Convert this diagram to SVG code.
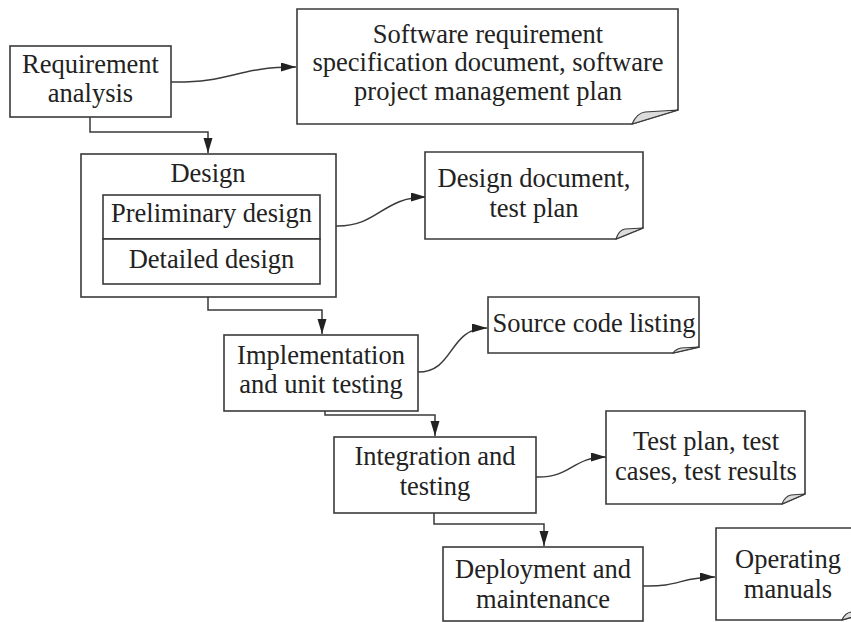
<svg xmlns="http://www.w3.org/2000/svg" width="851" height="622" viewBox="0 0 851 622">
<style>
  .box { fill: #ffffff; stroke: #3a3a3a; stroke-width: 1.6; }
  .fold { fill: #dcdcdc; stroke: #3a3a3a; stroke-width: 1.2; stroke-linejoin: round; }
  .t { font-family: "Liberation Serif", "Times New Roman", serif; font-size: 26.5px; fill: #222222; text-anchor: middle; }
  .conn { fill: none; stroke: #3a3a3a; stroke-width: 1.5; }
</style>
<defs>
  <marker id="ah" markerUnits="userSpaceOnUse" markerWidth="16" markerHeight="10" refX="15" refY="4.5" orient="auto">
    <path d="M0,0 L15,4.5 L0,9 Z" fill="#222222"/>
  </marker>
</defs>
<rect width="851" height="622" fill="#ffffff"/>

<g id="connectors">
  <path class="conn" d="M171,82 C233,83 234,67 296,67" marker-end="url(#ah)"/>
  <path class="conn" d="M90,117 V132 H208 V153" marker-end="url(#ah)"/>
  <path class="conn" d="M336,226 C378,227 382,197 426,197" marker-end="url(#ah)"/>
  <path class="conn" d="M208,297 V310 H322 V334" marker-end="url(#ah)"/>
  <path class="conn" d="M418,372 C455,372 448,328 487,328" marker-end="url(#ah)"/>
  <path class="conn" d="M325,411 V415 H435 V436" marker-end="url(#ah)"/>
  <path class="conn" d="M536,477 C572,478 572,457 606,457" marker-end="url(#ah)"/>
  <path class="conn" d="M434,513 V524 H544 V546" marker-end="url(#ah)"/>
  <path class="conn" d="M643,586 C680,587 680,577 715,577" marker-end="url(#ah)"/>
</g>

<g id="requirement-analysis">
  <rect class="box" x="10" y="46" width="161" height="71"/>
  <text class="t" x="90.5" y="73">Requirement</text>
  <text class="t" x="90.5" y="102">analysis</text>
</g>

<g id="srs-document">
  <path class="box" d="M297,9 H678 V110 L632,124 H297 Z"/>
  <path class="fold" d="M632,124 Q637,113 645,112 L678,110 Z"/>
  <text class="t" x="488" y="43">Software requirement</text>
  <text class="t" x="488" y="71">specification document, software</text>
  <text class="t" x="488" y="100">project management plan</text>
</g>

<g id="design">
  <rect class="box" x="81" y="154" width="255" height="143"/>
  <text class="t" x="208" y="182">Design</text>
  <g id="preliminary-design">
    <rect class="box" x="103" y="195" width="217" height="44"/>
    <text class="t" x="211.5" y="222">Preliminary design</text>
  </g>
  <g id="detailed-design">
    <rect class="box" x="103" y="239" width="217" height="45"/>
    <text class="t" x="211.5" y="268">Detailed design</text>
  </g>
</g>

<g id="design-document">
  <path class="box" d="M425,152 H643 V228 L616,239 H425 Z"/>
  <path class="fold" d="M616,239 Q619,230 625,229 L643,228 Z"/>
  <text class="t" x="534" y="187">Design document,</text>
  <text class="t" x="534" y="217">test plan</text>
</g>

<g id="implementation">
  <rect class="box" x="224" y="335" width="194" height="76"/>
  <text class="t" x="321" y="364">Implementation</text>
  <text class="t" x="321" y="393">and unit testing</text>
</g>

<g id="source-code">
  <path class="box" d="M488,297 H699 V347 L673,353 H488 Z"/>
  <path class="fold" d="M673,353 Q676,349 681,348 L699,347 Z"/>
  <text class="t" x="594" y="332">Source code listing</text>
</g>

<g id="integration">
  <rect class="box" x="334" y="437" width="202" height="76"/>
  <text class="t" x="435" y="465">Integration and</text>
  <text class="t" x="435" y="495">testing</text>
</g>

<g id="test-documents">
  <path class="box" d="M606,411 H805 V494 L782,504 H606 Z"/>
  <path class="fold" d="M782,504 Q785,496 791,495 L805,494 Z"/>
  <text class="t" x="706" y="450">Test plan, test</text>
  <text class="t" x="706" y="480">cases, test results</text>
</g>

<g id="deployment">
  <rect class="box" x="443" y="547" width="200" height="74"/>
  <text class="t" x="543" y="578">Deployment and</text>
  <text class="t" x="543" y="608">maintenance</text>
</g>

<g id="operating-manuals">
  <path class="box" d="M716,528 H872 V611 L842,620 H716 Z"/>
  <path class="fold" d="M842,620 Q845,613 851,612 L872,611 Z"/>
  <text class="t" x="788" y="568">Operating</text>
  <text class="t" x="788" y="598">manuals</text>
</g>
</svg>
